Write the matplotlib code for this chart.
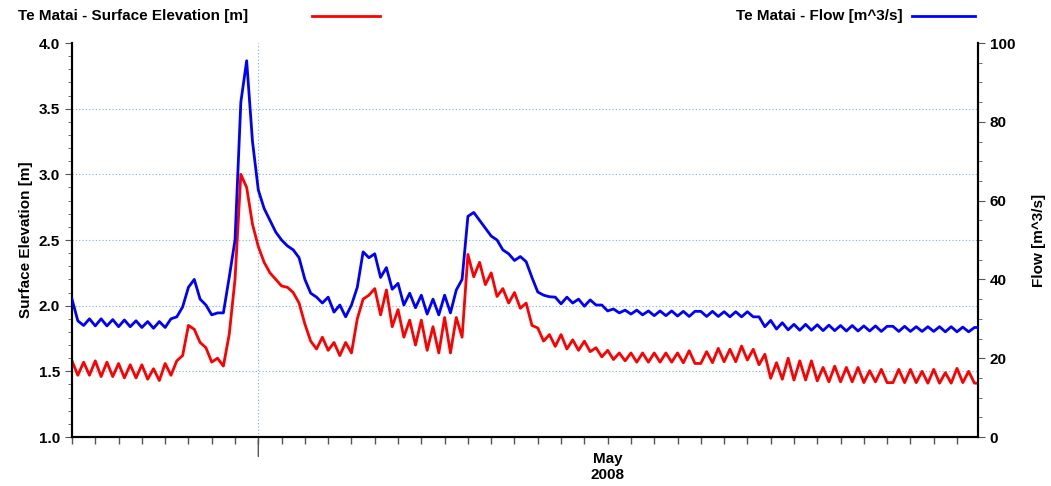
import datetime as dt
import matplotlib
matplotlib.use("Agg")
import matplotlib.pyplot as plt
import matplotlib.dates as mdates
from matplotlib.lines import Line2D
from matplotlib.ticker import MultipleLocator

plt.rcParams['font.family'] = ['Liberation Sans', 'DejaVu Sans']
plt.rcParams['font.weight'] = 'bold'

# 6-hourly samples starting 8 Apr 2008
start = dt.datetime(2008, 4, 8, 0)
step_hours = 6

elevation = [
    1.58, 1.47, 1.57, 1.47, 1.58, 1.46, 1.57, 1.46, 1.56, 1.45, 1.55, 1.45,
    1.55, 1.44, 1.52, 1.43, 1.56, 1.47, 1.58, 1.62, 1.85, 1.82, 1.72, 1.68,
    1.57, 1.60, 1.54, 1.78, 2.20, 3.00, 2.90, 2.62, 2.45, 2.33, 2.25, 2.20,
    2.15, 2.14, 2.10, 2.02, 1.86, 1.73, 1.67, 1.76, 1.66, 1.72, 1.62, 1.72,
    1.64, 1.90, 2.05, 2.08, 2.13, 1.93, 2.12, 1.84, 1.97, 1.76, 1.89, 1.70,
    1.89, 1.66, 1.84, 1.64, 1.91, 1.64, 1.91, 1.76, 2.39, 2.22, 2.33, 2.16,
    2.25, 2.07, 2.13, 2.02, 2.10, 1.98, 2.02, 1.85, 1.83, 1.73, 1.78, 1.69,
    1.78, 1.67, 1.74, 1.66, 1.73, 1.65, 1.68, 1.61, 1.66, 1.59, 1.64, 1.58,
    1.64, 1.57, 1.64, 1.57, 1.64, 1.57, 1.64, 1.57, 1.64, 1.565, 1.657, 1.56,
    1.56, 1.65, 1.566, 1.675, 1.573, 1.668, 1.573, 1.693, 1.586, 1.668, 1.55, 1.63,
    1.447, 1.566, 1.44, 1.60, 1.434, 1.58, 1.434, 1.58, 1.427, 1.53, 1.42, 1.54,
    1.42, 1.53, 1.42, 1.53, 1.414, 1.505, 1.42, 1.515, 1.414, 1.414, 1.515, 1.414,
    1.515, 1.414, 1.50, 1.41, 1.515, 1.41, 1.49, 1.41, 1.523, 1.414, 1.50, 1.41,
    1.41,
]

flow = [
    35.0, 29.5, 28.3, 30.0, 28.2, 30.0, 28.2, 29.8, 28.0, 29.7, 28.0, 29.5,
    27.8, 29.3, 27.6, 29.3, 27.8, 30.0, 30.5, 33.0, 38.0, 40.0, 35.0, 33.5,
    31.0, 31.5, 31.5, 40.5, 50.0, 85.0, 95.5, 75.0, 62.7, 58.0, 55.0, 52.0,
    50.0, 48.5, 47.5, 45.5, 40.0, 36.5, 35.5, 34.0, 35.5, 31.7, 33.5, 30.5,
    33.5, 38.0, 47.0, 45.5, 46.5, 40.5, 43.0, 37.5, 39.0, 33.5, 36.5, 32.8,
    36.0, 31.2, 35.0, 31.0, 36.0, 31.5, 37.3, 40.0, 56.0, 57.0, 55.0, 53.0,
    51.0, 50.0, 47.5, 46.5, 44.8, 45.8, 44.5, 40.5, 36.8, 36.0, 35.6, 35.5,
    33.8, 35.5, 34.0, 35.0, 33.2, 34.8, 33.5, 33.5, 32.0, 32.5, 31.5, 32.2,
    31.2, 32.2, 31.0, 32.0, 30.8, 32.0, 30.8, 32.0, 30.7, 31.9, 30.6, 31.9,
    31.9, 30.6, 31.9, 30.6, 31.8, 30.5, 31.8, 30.5, 31.8, 30.5, 30.5, 28.0,
    29.6, 27.4, 29.0, 27.2, 28.6, 27.1, 28.6, 27.1, 28.5, 27.0, 28.4, 27.0,
    28.3, 26.9, 28.3, 26.9, 28.2, 26.9, 28.2, 26.8, 28.1, 28.1, 26.8, 28.1,
    26.8, 28.0, 26.8, 28.0, 26.8, 28.0, 26.7, 28.0, 26.7, 27.9, 26.7, 27.8,
    27.8,
]

times = [start + dt.timedelta(hours=step_hours * i) for i in range(len(elevation))]
x_end = start + dt.timedelta(days=38.9)

fig = plt.figure(figsize=(10.51, 4.86), dpi=100)
ax = fig.add_axes([0.0685, 0.1008, 0.862, 0.8107])
ax2 = ax.twinx()

ax.plot(times, elevation, color='#ff0000', lw=2.0, zorder=3)
ax2.plot(times, flow, color='#0000ff', lw=2.0, zorder=3)

ax.set_xlim(start, x_end)
ax.set_ylim(1.0, 4.0)
ax2.set_ylim(0, 100)

grid_kw = dict(color='#7fb2e5', lw=0.8, ls=(0, (1, 2)))
for yv in [1.5, 2.0, 2.5, 3.0, 3.5]:
    ax.axhline(yv, zorder=1, **grid_kw)
ax.axvline(dt.datetime(2008, 4, 16), zorder=1, **grid_kw)

ax.yaxis.set_major_locator(MultipleLocator(0.5))
ax.yaxis.set_minor_locator(MultipleLocator(0.1))
ax.yaxis.set_major_formatter(matplotlib.ticker.FormatStrFormatter('%.1f'))
ax2.yaxis.set_major_locator(MultipleLocator(20))
ax2.yaxis.set_minor_locator(MultipleLocator(5))

ax.xaxis.set_major_locator(mdates.DayLocator(bymonthday=[1]))
ax.xaxis.set_major_formatter(mdates.DateFormatter('%b\n%Y'))
ax.xaxis.set_minor_locator(mdates.DayLocator())
ax.tick_params(axis='x', which='major', length=5, width=1, color='#555555', labelsize=11, pad=6)
ax.tick_params(axis='x', which='minor', length=5, width=1, color='#555555')
ax.annotate('', xy=(dt.datetime(2008, 4, 16), 0), xycoords=('data', 'axes fraction'),
            xytext=(0, -16), textcoords='offset points',
            arrowprops=dict(arrowstyle='-', color='#555555', lw=1))

for a in (ax, ax2):
    a.tick_params(axis='y', which='major', length=5, labelsize=11, color='#555555')
    a.tick_params(axis='y', which='minor', length=3, color='#555555')
    for s in a.spines.values():
        s.set_linewidth(1.5)
        s.set_color('black')
ax.spines['top'].set_visible(False)
ax2.spines['top'].set_visible(False)

ax.set_ylabel('Surface Elevation [m]', fontsize=11, fontweight='bold')
ax2.set_ylabel('Flow [m^3/s]', fontsize=11, fontweight='bold', labelpad=12)

fig.text(0.017, 0.968, 'Te Matai - Surface Elevation [m]', fontsize=11, fontweight='bold', va='center')
fig.add_artist(Line2D([0.297, 0.362], [0.968, 0.968], color='#ff0000', lw=2.0))
fig.text(0.70, 0.968, 'Te Matai - Flow [m^3/s]', fontsize=11, fontweight='bold', va='center')
fig.add_artist(Line2D([0.868, 0.928], [0.968, 0.968], color='#0000ff', lw=2.0))

fig.savefig('out.png', dpi=100)
